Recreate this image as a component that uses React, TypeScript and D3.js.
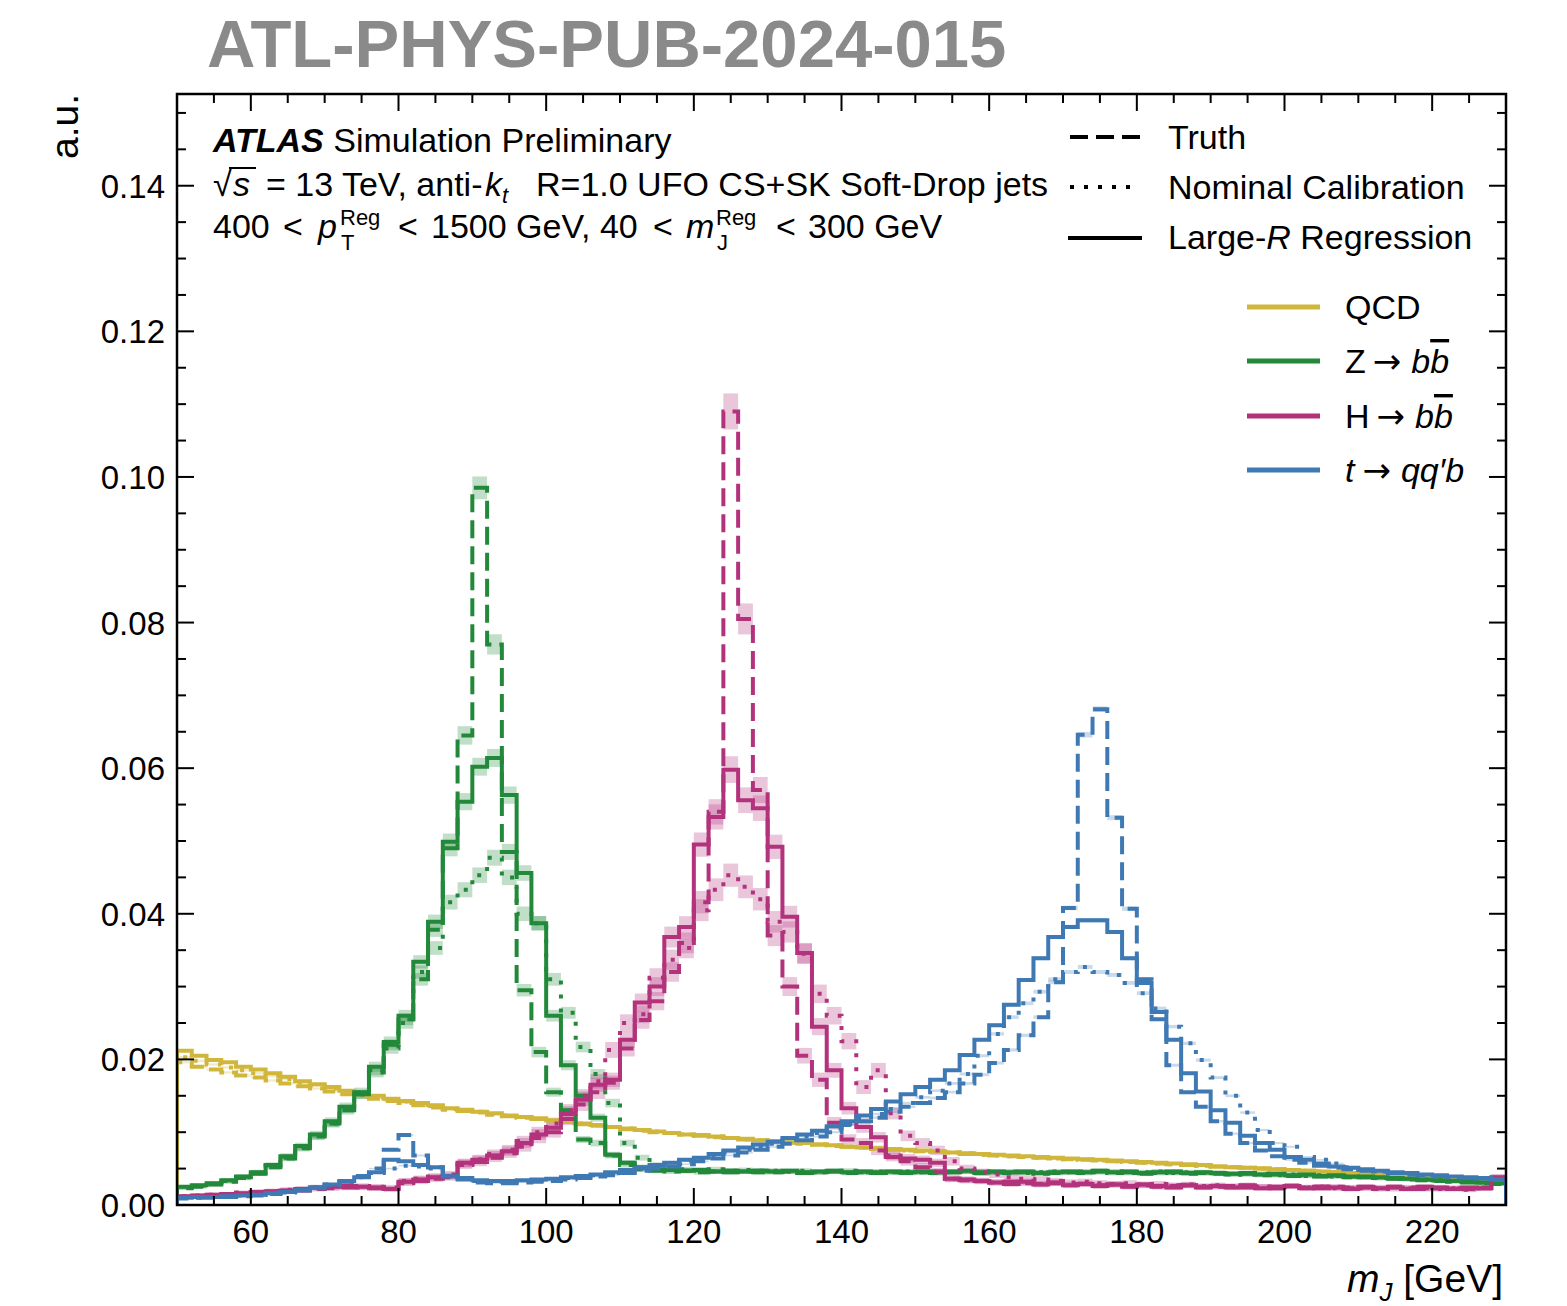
import React from "react";
import * as d3 from "d3";

// ---------------- DATA ----------------
// 2 GeV bins from 50 to 230 GeV (lower edges)
const binLowEdges = d3.range(50, 230, 2);
const binWidth = 2;

const qcdRegression = [
  0.0212, 0.0205, 0.0199, 0.0196, 0.0190, 0.0186, 0.0181, 0.0176, 0.0170, 0.0166,
  0.0162, 0.0157, 0.0153, 0.0150, 0.0146, 0.0143, 0.0140, 0.0137, 0.0133, 0.0131,
  0.0128, 0.0126, 0.0123, 0.0121, 0.0119, 0.0116, 0.0114, 0.0112, 0.0110, 0.0107,
  0.0105, 0.0103, 0.0101, 0.0099, 0.0097, 0.0096, 0.0094, 0.0092, 0.0091, 0.0089,
  0.0088, 0.0086, 0.0085, 0.0083, 0.0082, 0.0080, 0.0079, 0.0078, 0.0077, 0.0076,
  0.0075, 0.0074, 0.0072, 0.0071, 0.0070, 0.0069, 0.0068, 0.0067, 0.0066, 0.0065,
  0.0064, 0.0063, 0.0062, 0.0061, 0.0060, 0.0059, 0.0058, 0.0057, 0.0056, 0.0055,
  0.0053, 0.0052, 0.0051, 0.0050, 0.0049, 0.0048, 0.0047, 0.0046, 0.0045, 0.0044,
  0.0043, 0.0042, 0.0041, 0.0040, 0.0039, 0.0037, 0.0036, 0.0035, 0.0034, 0.0032,
];
const qcdTruth = [
  0.0196, 0.0190, 0.0186, 0.0182, 0.0178, 0.0175, 0.0171, 0.0167, 0.0163, 0.0160,
  0.0156, 0.0152, 0.0149, 0.0146, 0.0143, 0.0140, 0.0137, 0.0134, 0.0131, 0.0129,
  0.0127, 0.0124, 0.0122, 0.0120, 0.0118, 0.0116, 0.0113, 0.0111, 0.0109, 0.0107,
  0.0104, 0.0102, 0.0100, 0.0099, 0.0097, 0.0095, 0.0093, 0.0092, 0.0090, 0.0089,
  0.0087, 0.0086, 0.0084, 0.0083, 0.0081, 0.0080, 0.0079, 0.0077, 0.0076, 0.0075,
  0.0074, 0.0073, 0.0072, 0.0070, 0.0069, 0.0068, 0.0067, 0.0066, 0.0065, 0.0064,
  0.0063, 0.0062, 0.0061, 0.0060, 0.0059, 0.0058, 0.0057, 0.0056, 0.0055, 0.0054,
  0.0053, 0.0052, 0.0051, 0.0050, 0.0049, 0.0048, 0.0047, 0.0046, 0.0045, 0.0044,
  0.0043, 0.0042, 0.0041, 0.0040, 0.0039, 0.0038, 0.0036, 0.0035, 0.0034, 0.0033,
];
const qcdNominal = [
  0.0203, 0.0198, 0.0193, 0.0189, 0.0185, 0.0181, 0.0177, 0.0173, 0.0168, 0.0164,
  0.0160, 0.0156, 0.0152, 0.0148, 0.0145, 0.0142, 0.0139, 0.0136, 0.0132, 0.0130,
  0.0128, 0.0125, 0.0123, 0.0121, 0.0118, 0.0116, 0.0114, 0.0112, 0.0109, 0.0107,
  0.0105, 0.0103, 0.0101, 0.0099, 0.0097, 0.0095, 0.0094, 0.0092, 0.0090, 0.0089,
  0.0087, 0.0086, 0.0085, 0.0083, 0.0082, 0.0080, 0.0079, 0.0078, 0.0076, 0.0075,
  0.0074, 0.0073, 0.0072, 0.0071, 0.0069, 0.0068, 0.0067, 0.0066, 0.0065, 0.0064,
  0.0063, 0.0062, 0.0061, 0.0060, 0.0059, 0.0058, 0.0057, 0.0056, 0.0055, 0.0054,
  0.0053, 0.0052, 0.0051, 0.0050, 0.0049, 0.0048, 0.0047, 0.0046, 0.0045, 0.0044,
  0.0043, 0.0042, 0.0041, 0.0040, 0.0039, 0.0038, 0.0037, 0.0035, 0.0034, 0.0033,
];

const zRegression = [
  0.0025, 0.0027, 0.0030, 0.0034, 0.0039, 0.0045, 0.0055, 0.0067, 0.0081, 0.0097,
  0.0115, 0.0135, 0.0155, 0.0190, 0.0224, 0.0260, 0.0334, 0.0389, 0.0499, 0.0554,
  0.0602, 0.0614, 0.0563, 0.0456, 0.0387, 0.0260, 0.0192, 0.0150, 0.0120, 0.0069,
  0.0058, 0.0052, 0.0049, 0.0048, 0.0047, 0.0048, 0.0046, 0.0047, 0.0046, 0.0047,
  0.0046, 0.0047, 0.0045, 0.0046, 0.0047, 0.0045, 0.0046, 0.0045, 0.0046, 0.0045,
  0.0046, 0.0045, 0.0046, 0.0047, 0.0045, 0.0046, 0.0045, 0.0046, 0.0044, 0.0045,
  0.0046, 0.0045, 0.0047, 0.0045, 0.0046, 0.0044, 0.0045, 0.0046, 0.0044, 0.0045,
  0.0044, 0.0043, 0.0044, 0.0042, 0.0043, 0.0041, 0.0042, 0.0040, 0.0041, 0.0039,
  0.0039, 0.0038, 0.0037, 0.0036, 0.0035, 0.0034, 0.0033, 0.0032, 0.0031, 0.0030,
];
const zTruth = [
  0.0023, 0.0025, 0.0028, 0.0032, 0.0037, 0.0043, 0.0052, 0.0064, 0.0078, 0.0094,
  0.0112, 0.0130, 0.0152, 0.0185, 0.0220, 0.0255, 0.0310, 0.0378, 0.0490, 0.0645,
  0.0985, 0.0770, 0.0485, 0.0295, 0.0210, 0.0155, 0.0130, 0.0090, 0.0085, 0.0068,
  0.0055, 0.0049, 0.0047, 0.0046, 0.0047, 0.0045, 0.0046, 0.0045, 0.0046, 0.0045,
  0.0045, 0.0046, 0.0044, 0.0045, 0.0046, 0.0044, 0.0045, 0.0044, 0.0045, 0.0044,
  0.0045, 0.0044, 0.0045, 0.0046, 0.0044, 0.0045, 0.0044, 0.0045, 0.0043, 0.0044,
  0.0045, 0.0044, 0.0046, 0.0044, 0.0045, 0.0043, 0.0044, 0.0045, 0.0043, 0.0044,
  0.0043, 0.0042, 0.0043, 0.0041, 0.0042, 0.0040, 0.0041, 0.0039, 0.0040, 0.0038,
  0.0038, 0.0037, 0.0036, 0.0035, 0.0034, 0.0033, 0.0032, 0.0031, 0.0030, 0.0029,
];
const zNominal = [
  0.0024, 0.0026, 0.0029, 0.0033, 0.0038, 0.0044, 0.0054, 0.0065, 0.0079, 0.0095,
  0.0112, 0.0132, 0.0152, 0.0182, 0.0215, 0.0250, 0.0320, 0.0353, 0.0416, 0.0433,
  0.0453, 0.0477, 0.0450, 0.0400, 0.0387, 0.0310, 0.0264, 0.0217, 0.0180, 0.0140,
  0.0085, 0.0065, 0.0055, 0.0051, 0.0049, 0.0048, 0.0049, 0.0047, 0.0048, 0.0047,
  0.0047, 0.0046, 0.0047, 0.0045, 0.0046, 0.0047, 0.0045, 0.0046, 0.0045, 0.0046,
  0.0045, 0.0046, 0.0045, 0.0046, 0.0046, 0.0045, 0.0046, 0.0044, 0.0045, 0.0046,
  0.0045, 0.0046, 0.0045, 0.0046, 0.0044, 0.0045, 0.0046, 0.0044, 0.0045, 0.0044,
  0.0044, 0.0043, 0.0042, 0.0043, 0.0041, 0.0042, 0.0040, 0.0041, 0.0039, 0.0039,
  0.0038, 0.0037, 0.0036, 0.0036, 0.0035, 0.0034, 0.0033, 0.0032, 0.0031, 0.0030,
];

const hRegression = [
  0.0012, 0.0013, 0.0014, 0.0015, 0.0016, 0.0018, 0.0019, 0.0020, 0.0022, 0.0024,
  0.0025, 0.0026, 0.0025, 0.0024, 0.0022, 0.0032, 0.0035, 0.0038, 0.0040, 0.0058,
  0.0062, 0.0068, 0.0074, 0.0085, 0.0097, 0.0106, 0.0125, 0.0145, 0.0165, 0.0172,
  0.0227, 0.0278, 0.0300, 0.0368, 0.0382, 0.0495, 0.0533, 0.0598, 0.0556, 0.0545,
  0.0492, 0.0396, 0.0346, 0.0245, 0.0185, 0.0133, 0.0107, 0.0093, 0.0066, 0.0064,
  0.0062, 0.0058, 0.0036, 0.0035, 0.0033, 0.0031, 0.0029, 0.0032, 0.0028, 0.0030,
  0.0027, 0.0029, 0.0026, 0.0028, 0.0025, 0.0028, 0.0026, 0.0024, 0.0027, 0.0025,
  0.0026, 0.0024, 0.0027, 0.0023, 0.0025, 0.0026, 0.0023, 0.0025, 0.0024, 0.0022,
  0.0025, 0.0023, 0.0024, 0.0022, 0.0025, 0.0023, 0.0022, 0.0024, 0.0023, 0.0038,
];
const hTruth = [
  0.0011, 0.0012, 0.0013, 0.0014, 0.0015, 0.0016, 0.0017, 0.0019, 0.0020, 0.0022,
  0.0023, 0.0024, 0.0024, 0.0023, 0.0022, 0.0030, 0.0033, 0.0036, 0.0038, 0.0055,
  0.0059, 0.0065, 0.0071, 0.0080, 0.0092, 0.0100, 0.0118, 0.0138, 0.0155, 0.0168,
  0.0215, 0.0254, 0.0280, 0.0320, 0.0360, 0.0416, 0.0540, 0.1090, 0.0805, 0.0570,
  0.0370, 0.0300, 0.0205, 0.0172, 0.0113, 0.0090, 0.0085, 0.0075, 0.0068, 0.0060,
  0.0052, 0.0046, 0.0036, 0.0034, 0.0033, 0.0031, 0.0032, 0.0030, 0.0029, 0.0031,
  0.0028, 0.0029, 0.0027, 0.0028, 0.0026, 0.0027, 0.0025, 0.0026, 0.0027, 0.0024,
  0.0025, 0.0026, 0.0024, 0.0025, 0.0023, 0.0026, 0.0024, 0.0023, 0.0025, 0.0023,
  0.0024, 0.0022, 0.0025, 0.0023, 0.0022, 0.0024, 0.0023, 0.0022, 0.0024, 0.0036,
];
const hNominal = [
  0.0012, 0.0013, 0.0014, 0.0015, 0.0017, 0.0018, 0.0019, 0.0021, 0.0022, 0.0024,
  0.0025, 0.0026, 0.0026, 0.0025, 0.0024, 0.0033, 0.0036, 0.0039, 0.0042, 0.0057,
  0.0063, 0.0070, 0.0076, 0.0088, 0.0100, 0.0112, 0.0130, 0.0150, 0.0170, 0.0213,
  0.0250, 0.0262, 0.0312, 0.0337, 0.0353, 0.0405, 0.0433, 0.0453, 0.0437, 0.0420,
  0.0389, 0.0375, 0.0345, 0.0290, 0.0260, 0.0225, 0.0162, 0.0185, 0.0126, 0.0095,
  0.0085, 0.0075, 0.0060, 0.0050, 0.0045, 0.0042, 0.0038, 0.0036, 0.0035, 0.0033,
  0.0031, 0.0032, 0.0030, 0.0029, 0.0030, 0.0028, 0.0029, 0.0027, 0.0028, 0.0026,
  0.0027, 0.0025, 0.0026, 0.0025, 0.0024, 0.0026, 0.0024, 0.0025, 0.0023, 0.0024,
  0.0023, 0.0024, 0.0022, 0.0024, 0.0023, 0.0022, 0.0023, 0.0021, 0.0023, 0.0037,
];

const tRegression = [
  0.0010, 0.0011, 0.0011, 0.0012, 0.0013, 0.0014, 0.0016, 0.0018, 0.0021, 0.0024,
  0.0028, 0.0033, 0.0038, 0.0045, 0.0062, 0.0060, 0.0055, 0.0052, 0.0039, 0.0037,
  0.0034, 0.0033, 0.0033, 0.0034, 0.0035, 0.0036, 0.0038, 0.0040, 0.0042, 0.0045,
  0.0048, 0.0051, 0.0055, 0.0058, 0.0062, 0.0065, 0.0070, 0.0075, 0.0079, 0.0083,
  0.0087, 0.0092, 0.0097, 0.0102, 0.0108, 0.0115, 0.0123, 0.0132, 0.0142, 0.0152,
  0.0162, 0.0172, 0.0185, 0.0206, 0.0227, 0.0247, 0.0275, 0.0309, 0.0339, 0.0368,
  0.0382, 0.0391, 0.0391, 0.0375, 0.0339, 0.0305, 0.0265, 0.0227, 0.0181, 0.0156,
  0.0130, 0.0113, 0.0095, 0.0085, 0.0076, 0.0066, 0.0062, 0.0057, 0.0053, 0.0051,
  0.0049, 0.0047, 0.0045, 0.0044, 0.0042, 0.0041, 0.0039, 0.0038, 0.0037, 0.0035,
];
const tTruth = [
  0.0009, 0.0010, 0.0010, 0.0011, 0.0012, 0.0013, 0.0015, 0.0017, 0.0020, 0.0023,
  0.0027, 0.0032, 0.0040, 0.0050, 0.0076, 0.0096, 0.0068, 0.0052, 0.0040, 0.0035,
  0.0031, 0.0030, 0.0030, 0.0031, 0.0032, 0.0033, 0.0035, 0.0037, 0.0039, 0.0041,
  0.0044, 0.0047, 0.0050, 0.0053, 0.0056, 0.0060, 0.0064, 0.0068, 0.0072, 0.0076,
  0.0080, 0.0084, 0.0089, 0.0094, 0.0100, 0.0110, 0.0115, 0.0120, 0.0128, 0.0135,
  0.0140, 0.0147, 0.0155, 0.0167, 0.0179, 0.0195, 0.0213, 0.0233, 0.0258, 0.0306,
  0.0408, 0.0646, 0.0681, 0.0532, 0.0407, 0.0310, 0.0255, 0.0192, 0.0155, 0.0135,
  0.0115, 0.0098, 0.0085, 0.0075, 0.0067, 0.0062, 0.0058, 0.0054, 0.0051, 0.0049,
  0.0047, 0.0046, 0.0044, 0.0042, 0.0041, 0.0040, 0.0038, 0.0037, 0.0036, 0.0035,
];
const tNominal = [
  0.0010, 0.0010, 0.0011, 0.0012, 0.0013, 0.0014, 0.0016, 0.0018, 0.0021, 0.0024,
  0.0028, 0.0032, 0.0038, 0.0044, 0.0050, 0.0054, 0.0053, 0.0050, 0.0040, 0.0036,
  0.0033, 0.0032, 0.0032, 0.0033, 0.0034, 0.0035, 0.0037, 0.0039, 0.0041, 0.0044,
  0.0047, 0.0050, 0.0053, 0.0057, 0.0060, 0.0064, 0.0068, 0.0072, 0.0076, 0.0080,
  0.0084, 0.0089, 0.0094, 0.0099, 0.0105, 0.0111, 0.0118, 0.0125, 0.0132, 0.0140,
  0.0148, 0.0157, 0.0167, 0.0180, 0.0205, 0.0235, 0.0258, 0.0277, 0.0293, 0.0310,
  0.0320, 0.0327, 0.0320, 0.0316, 0.0305, 0.0291, 0.0270, 0.0245, 0.0222, 0.0199,
  0.0175, 0.0150, 0.0127, 0.0103, 0.0085, 0.0080, 0.0066, 0.0062, 0.0057, 0.0052,
  0.0048, 0.0046, 0.0044, 0.0042, 0.0041, 0.0039, 0.0038, 0.0037, 0.0036, 0.0035,
];

// statistical-uncertainty scale per process (band half-height = k * sqrt(value))
const processNames = ["QCD", "Z", "H", "t"];
const processColors = ["#d0b73c", "#22893a", "#b2327c", "#3f79b4"];
const processErrScale = [0.0012, 0.005, 0.0075, 0.0015];

const xTicks = [60, 80, 100, 120, 140, 160, 180, 200, 220];
const xMinorTicks = d3.range(50, 231, 5);
const yTicks = [0, 0.02, 0.04, 0.06, 0.08, 0.1, 0.12, 0.14];
const yMinorTicks = d3.range(0, 0.1526, 0.005);

// ---------------- LAYOUT ----------------
const W = 1567;
const H = 1306;
const PL = 177, PR = 1506, PT = 94, PB = 1205;
const FONT = "'Liberation Sans', Arial, Helvetica, sans-serif";
const ARROW_FONT = "'DejaVu Sans', sans-serif";

const x = d3.scaleLinear().domain([50, 230]).range([PL, PR]);
const y = d3.scaleLinear().domain([0, 0.1526]).range([PB, PT]);

const dashStyles: Record<string, string | undefined> = {
  truth: "18,8",
  nominal: "4,10",
  regression: undefined,
};

const stepLine = d3
  .line<[number, number]>()
  .x((d) => x(d[0]))
  .y((d) => y(d[1]))
  .curve(d3.curveStepAfter);

function stepPath(vals: number[]) {
  const pts: [number, number][] = [[binLowEdges[0], 0]];
  vals.forEach((v, i) => pts.push([binLowEdges[i], v]));
  pts.push([binLowEdges[binLowEdges.length - 1] + binWidth, 0]);
  return stepLine(pts) || "";
}

const series = [
  { p: 0, truth: qcdTruth, nominal: qcdNominal, regression: qcdRegression },
  { p: 1, truth: zTruth, nominal: zNominal, regression: zRegression },
  { p: 2, truth: hTruth, nominal: hNominal, regression: hRegression },
  { p: 3, truth: tTruth, nominal: tNominal, regression: tRegression },
];

export default function App() {
  const majorLen = 17;
  const minorLen = 9;
  const tickStroke = 2;

  const bands: JSX.Element[] = [];
  const lines: JSX.Element[] = [];
  series.forEach((s) => {
    const color = processColors[s.p];
    const k = processErrScale[s.p];
    (["truth", "nominal", "regression"] as const).forEach((kind) => {
      const vals = s[kind];
      vals.forEach((v, i) => {
        const e = k * Math.sqrt(v);
        bands.push(
          <rect
            key={`b-${s.p}-${kind}-${i}`}
            x={x(binLowEdges[i])}
            width={x(binLowEdges[i] + binWidth) - x(binLowEdges[i])}
            y={y(v + e)}
            height={y(v - e) - y(v + e)}
            fill={color}
            opacity={0.28}
          />
        );
      });
    });
    (["truth", "nominal", "regression"] as const).forEach((kind) => {
      lines.push(
        <path
          key={`l-${s.p}-${kind}`}
          d={stepPath(s[kind])}
          fill="none"
          stroke={color}
          strokeWidth={4}
          strokeDasharray={dashStyles[kind]}
          strokeLinecap="butt"
          strokeLinejoin="miter"
        />
      );
    });
  });

  const fs = 34;

  return (
    <svg
      width={W}
      height={H}
      style={{ position: "absolute", left: 0, top: 0, background: "#fff" }}
      fontFamily={FONT}
    >
      <rect x={0} y={0} width={W} height={H} fill="#fff" />
      <defs>
        <clipPath id="plotClip">
          <rect x={PL} y={PT} width={PR - PL} height={PB - PT} />
        </clipPath>
      </defs>

      {/* Title */}
      <text x={207} y={67} fontSize={67} fontWeight="bold" fill="#8a8a8a">
        ATL-PHYS-PUB-2024-015
      </text>

      <g clipPath="url(#plotClip)">
        {bands}
        {lines}
      </g>

      {/* frame */}
      <rect x={PL} y={PT} width={PR - PL} height={PB - PT} fill="none" stroke="#000" strokeWidth={2.5} />

      {/* ticks */}
      <g stroke="#000" strokeWidth={tickStroke}>
        {xMinorTicks.map((t) => {
          const major = xTicks.includes(t);
          const L = major ? majorLen : minorLen;
          return (
            <g key={`xt-${t}`}>
              <line x1={x(t)} x2={x(t)} y1={PB} y2={PB - L} />
              <line x1={x(t)} x2={x(t)} y1={PT} y2={PT + L} />
            </g>
          );
        })}
        {yMinorTicks.map((t, i) => {
          const major = i % 4 === 0;
          const L = major ? majorLen : minorLen;
          return (
            <g key={`yt-${i}`}>
              <line x1={PL} x2={PL + L} y1={y(t)} y2={y(t)} />
              <line x1={PR} x2={PR - L} y1={y(t)} y2={y(t)} />
            </g>
          );
        })}
      </g>

      {/* tick labels */}
      {xTicks.map((t) => (
        <text key={`xl-${t}`} x={x(t)} y={1243} fontSize={33} textAnchor="middle">
          {t}
        </text>
      ))}
      {yTicks.map((t) => (
        <text key={`yl-${t}`} x={165} y={y(t) + 12} fontSize={33} textAnchor="end">
          {t.toFixed(2)}
        </text>
      ))}

      {/* axis labels */}
      <text transform="translate(78,94) rotate(-90)" fontSize={39} textAnchor="end">
        a.u.
      </text>
      <text x={1503} y={1292} fontSize={39} textAnchor="end">
        <tspan fontStyle="italic">m</tspan>
        <tspan fontStyle="italic" fontSize={26} dy={9}>J</tspan>
        <tspan dy={-9}> [GeV]</tspan>
      </text>

      {/* ATLAS label */}
      <text x={213} y={152} fontSize={fs}>
        <tspan fontWeight="bold" fontStyle="italic">ATLAS</tspan>
        <tspan> Simulation Preliminary</tspan>
      </text>
      <g fontSize={fs}>
        <text x={213} y={196}>√</text>
        <text x={233} y={196} fontStyle="italic">s</text>
        <line x1={229} x2={256} y1={168} y2={168} stroke="#000" strokeWidth={2} />
        <text x={266} y={196}>= 13 TeV, anti-</text>
        <text x={485} y={196} fontStyle="italic">k</text>
        <text x={502} y={203} fontStyle="italic" fontSize={22}>t</text>
        <text x={536} y={196}>R=1.0 UFO CS+SK Soft-Drop jets</text>

        <text x={213} y={238}>400</text>
        <text x={283} y={238}>&lt;</text>
        <text x={318} y={238} fontStyle="italic">p</text>
        <text x={340} y={225} fontSize={22}>Reg</text>
        <text x={341} y={250} fontSize={22}>T</text>
        <text x={398} y={238}>&lt;</text>
        <text x={431} y={238}>1500 GeV, 40</text>
        <text x={653} y={238}>&lt;</text>
        <text x={686} y={238} fontStyle="italic">m</text>
        <text x={716} y={225} fontSize={22}>Reg</text>
        <text x={717} y={250} fontSize={22}>J</text>
        <text x={776} y={238}>&lt;</text>
        <text x={808} y={238}>300 GeV</text>
      </g>

      {/* style legend */}
      <g fontSize={fs}>
        <line x1={1070} x2={1140} y1={137} y2={137} stroke="#000" strokeWidth={4} strokeDasharray={dashStyles.truth} />
        <text x={1168} y={149}>Truth</text>
        <line x1={1070} x2={1136} y1={187} y2={187} stroke="#000" strokeWidth={4} strokeDasharray={dashStyles.nominal} />
        <text x={1168} y={199}>Nominal Calibration</text>
        <line x1={1068} x2={1142} y1={238} y2={238} stroke="#000" strokeWidth={4} />
        <text x={1168} y={249}>
          Large-<tspan fontStyle="italic">R</tspan> Regression
        </text>
      </g>

      {/* process legend */}
      <g fontSize={fs}>
        {processNames.map((n, i) => {
          const yy = [307, 361, 416, 470][i];
          return (
            <line key={`pl-${n}`} x1={1247} x2={1320} y1={yy} y2={yy} stroke={processColors[i]} strokeWidth={5} />
          );
        })}
        <text x={1345} y={319}>QCD</text>
        <text x={1345} y={373}>
          <tspan>Z</tspan>
          <tspan fontFamily={ARROW_FONT} dx={7}>→</tspan>
          <tspan fontStyle="italic" dx={10}>b</tspan>
          <tspan fontStyle="italic" style={{ textDecoration: "overline" }}>b</tspan>
        </text>
        <text x={1345} y={428}>
          <tspan>H</tspan>
          <tspan fontFamily={ARROW_FONT} dx={7}>→</tspan>
          <tspan fontStyle="italic" dx={10}>b</tspan>
          <tspan fontStyle="italic" style={{ textDecoration: "overline" }}>b</tspan>
        </text>
        <text x={1345} y={482}>
          <tspan fontStyle="italic">t</tspan>
          <tspan fontFamily={ARROW_FONT} dx={8}>→</tspan>
          <tspan fontStyle="italic" dx={10}>qq′b</tspan>
        </text>
      </g>
    </svg>
  );
}
